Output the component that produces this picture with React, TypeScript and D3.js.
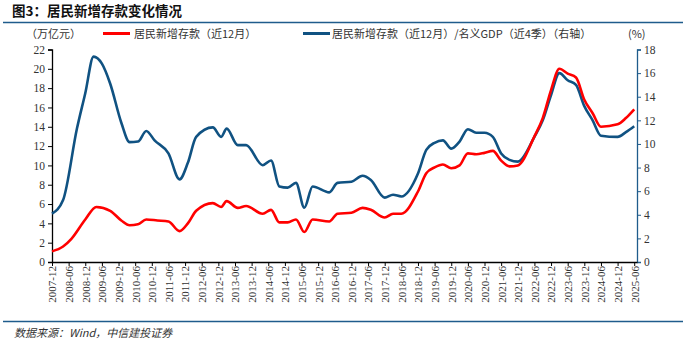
import React, { useRef, useEffect } from "react";
import * as d3 from "d3";

// 居民新增存款（近12月），万亿元
const redDates = ["2007-12", "2008-04", "2008-07", "2008-12", "2009-04", "2009-09", "2010-01", "2010-04", "2010-07", "2010-10", "2011-02", "2011-06", "2011-10", "2012-01", "2012-04", "2012-10", "2013-01", "2013-03", "2013-07", "2013-10", "2014-04", "2014-07", "2014-10", "2015-01", "2015-04", "2015-07", "2015-10", "2016-04", "2016-07", "2016-12", "2017-04", "2017-07", "2017-12", "2018-03", "2018-06", "2018-12", "2019-03", "2019-06", "2019-09", "2019-12", "2020-03", "2020-06", "2020-09", "2020-12", "2021-03", "2021-06", "2021-09", "2021-12", "2022-06", "2022-09", "2022-12", "2023-03", "2023-06", "2023-09", "2023-12", "2024-03", "2024-06", "2024-12", "2025-03", "2025-06"];
const redValues = [1.1, 1.6, 2.4, 4.4, 5.7, 5.3, 4.3, 3.8, 3.9, 4.4, 4.3, 4.2, 3.2, 4.0, 5.3, 6.1, 5.7, 6.3, 5.6, 5.8, 5.0, 5.4, 4.1, 4.1, 4.4, 3.1, 4.4, 4.2, 5.0, 5.1, 5.6, 5.4, 4.6, 5.0, 5.0, 7.3, 9.2, 9.8, 10.1, 9.7, 10.0, 11.25, 11.15, 11.3, 11.5, 10.5, 9.9, 10.0, 13.0, 14.9, 17.8, 20.0, 19.5, 19.1, 16.8, 15.4, 14.0, 14.25, 14.9, 15.8];

// 居民新增存款（近12月）/名义GDP（近4季），%（右轴）
const blueDates = ["2007-12", "2008-04", "2008-09", "2008-12", "2009-03", "2009-06", "2009-09", "2010-01", "2010-04", "2010-07", "2010-10", "2011-01", "2011-06", "2011-10", "2012-01", "2012-04", "2012-10", "2013-01", "2013-03", "2013-07", "2013-10", "2014-04", "2014-07", "2014-10", "2015-01", "2015-04", "2015-07", "2015-10", "2016-04", "2016-07", "2016-12", "2017-04", "2017-07", "2017-12", "2018-03", "2018-06", "2018-12", "2019-03", "2019-06", "2019-09", "2019-12", "2020-03", "2020-06", "2020-09", "2020-12", "2021-03", "2021-06", "2021-09", "2021-12", "2022-06", "2022-09", "2022-12", "2023-03", "2023-06", "2023-09", "2023-12", "2024-03", "2024-06", "2024-12", "2025-03", "2025-06"];
const blueValues = [4.1, 5.25, 11.3, 14.3, 17.4, 16.8, 15.1, 11.8, 10.15, 10.2, 11.1, 10.3, 9.2, 7.0, 8.4, 10.6, 11.4, 10.6, 11.3, 9.9, 9.9, 8.2, 8.6, 6.4, 6.3, 6.7, 4.6, 6.4, 5.9, 6.7, 6.8, 7.3, 6.95, 5.45, 5.7, 5.55, 7.5, 9.5, 10.1, 10.3, 9.6, 10.2, 11.25, 10.95, 10.95, 10.6, 9.2, 8.65, 8.5, 10.6, 12.0, 14.15, 16.0, 15.4, 15.0, 13.2, 12.0, 10.7, 10.6, 11.0, 11.5];

const xTickLabels = ["2007-12", "2008-06", "2008-12", "2009-06", "2009-12", "2010-06", "2010-12", "2011-06", "2011-12", "2012-06", "2012-12", "2013-06", "2013-12", "2014-06", "2014-12", "2015-06", "2015-12", "2016-06", "2016-12", "2017-06", "2017-12", "2018-06", "2018-12", "2019-06", "2019-12", "2020-06", "2020-12", "2021-06", "2021-12", "2022-06", "2022-12", "2023-06", "2023-12", "2024-06", "2024-12", "2025-06"];
const leftTicks = [0, 2, 4, 6, 8, 10, 12, 14, 16, 18, 20, 22];
const rightTicks = [0, 2, 4, 6, 8, 10, 12, 14, 16, 18];

const RED = "#ff0000";
const BLUE = "#105282";
const NAVY = "#1f5c8c";

// month string -> index of months since 2007-12
const monthIdx = (s: string) => {
    const [y, m] = s.split("-").map(Number);
    return (y - 2007) * 12 + (m - 12);
};

const App = () => {
    const svgRef = useRef<SVGSVGElement>(null);
    const width = 683;
    const height = 351;

    useEffect(() => {
        const svg = d3.select(svgRef.current);
        svg.selectAll("*").remove();

        const x = d3.scaleLinear().domain([0, 211]).range([52, 637]);
        const yL = d3.scaleLinear().domain([0, 22]).range([262, 49.5]);
        const yR = d3.scaleLinear().domain([0, 18]).range([262, 49.5]);

        // title
        svg.append("text")
            .attr("x", 12).attr("y", 16)
            .attr("font-family", "'Noto Sans CJK SC', sans-serif")
            .attr("font-weight", "bold")
            .attr("font-size", 13.5)
            .attr("fill", "#111")
            .text("图3：居民新增存款变化情况");

        svg.append("line")
            .attr("x1", 3).attr("x2", 683).attr("y1", 22.5).attr("y2", 22.5)
            .attr("stroke", NAVY).attr("stroke-width", 1.5);
        svg.append("line")
            .attr("x1", 3).attr("x2", 683).attr("y1", 321.5).attr("y2", 321.5)
            .attr("stroke", NAVY).attr("stroke-width", 1.5);

        // legend + unit labels
        const cjk = "'Noto Sans CJK SC', sans-serif";
        svg.append("text").attr("x", 26).attr("y", 38).attr("font-family", cjk)
            .attr("font-size", 11).attr("fill", "#333").text("（万亿元）");
        svg.append("text").attr("x", 628).attr("y", 38).attr("font-family", cjk)
            .attr("font-size", 11).attr("fill", "#333").text("(%)");
        svg.append("line").attr("x1", 103).attr("x2", 130).attr("y1", 33.5).attr("y2", 33.5)
            .attr("stroke", RED).attr("stroke-width", 3);
        svg.append("text").attr("x", 134).attr("y", 38).attr("font-family", cjk)
            .attr("font-size", 11).attr("fill", "#333").text("居民新增存款（近12月）");
        svg.append("line").attr("x1", 303).attr("x2", 330).attr("y1", 33.5).attr("y2", 33.5)
            .attr("stroke", BLUE).attr("stroke-width", 3);
        svg.append("text").attr("x", 332).attr("y", 38).attr("font-family", cjk)
            .attr("font-size", 11).attr("fill", "#333").text("居民新增存款（近12月）/名义GDP（近4季）（右轴）");

        const tickFont = "'Liberation Serif', serif";

        // left axis
        const gL = svg.append("g").attr("transform", "translate(52,0)")
            .call(d3.axisLeft(yL).tickValues(leftTicks).tickSize(4).tickPadding(3));
        gL.select(".domain").attr("stroke", "#000").attr("stroke-width", 1.3);
        gL.selectAll("line").attr("stroke", "#000");
        gL.selectAll("text").attr("font-family", tickFont).attr("font-size", 11.5).attr("fill", "#333");

        // right axis
        const gR = svg.append("g").attr("transform", "translate(637,0)")
            .call(d3.axisRight(yR).tickValues(rightTicks).tickSize(4).tickPadding(3));
        gR.select(".domain").attr("stroke", NAVY).attr("stroke-width", 1.3);
        gR.selectAll("line").attr("stroke", NAVY);
        gR.selectAll("text").attr("font-family", tickFont).attr("font-size", 11.5).attr("fill", "#333");

        // bottom axis
        const gX = svg.append("g").attr("transform", "translate(0,262)")
            .call(d3.axisBottom(x)
                .tickValues(xTickLabels.map(monthIdx))
                .tickFormat((d, i) => xTickLabels[i])
                .tickSize(4)
                .tickSizeOuter(0));
        gX.select(".domain").attr("stroke", "#000").attr("stroke-width", 1.3);
        gX.selectAll("line").attr("stroke", "#000");
        gX.selectAll("text")
            .attr("font-family", tickFont).attr("font-size", 11).attr("fill", "#333")
            .attr("transform", "rotate(-90)")
            .attr("text-anchor", "end")
            .attr("dx", "-4").attr("dy", "0.35em")
            .attr("x", 0).attr("y", 0);

        // lines
        const redData = redDates.map((d, i) => ({ x: monthIdx(d), y: redValues[i] }));
        const blueData = blueDates.map((d, i) => ({ x: monthIdx(d), y: blueValues[i] }));

        const redLine = d3.line<{ x: number; y: number }>()
            .x(d => x(d.x)).y(d => yL(d.y)).curve(d3.curveMonotoneX);
        const blueLine = d3.line<{ x: number; y: number }>()
            .x(d => x(d.x)).y(d => yR(d.y)).curve(d3.curveMonotoneX);

        svg.append("path").datum(blueData).attr("d", blueLine)
            .attr("fill", "none").attr("stroke", BLUE).attr("stroke-width", 2.6)
            .attr("stroke-linejoin", "round");
        svg.append("path").datum(redData).attr("d", redLine)
            .attr("fill", "none").attr("stroke", RED).attr("stroke-width", 2.6)
            .attr("stroke-linejoin", "round");

        // source
        svg.append("text").attr("x", 14).attr("y", 337).attr("font-family", "'Noto Sans CJK SC', sans-serif")
            .attr("font-size", 11).attr("font-style", "italic").attr("fill", "#333")
            .text("数据来源：Wind，中信建投证券");
    }, []);

    return (
        <div>
            <svg ref={svgRef} width={width} height={height}
                style={{ position: "absolute", left: 0, top: 0, background: "#fff" }}>
            </svg>
        </div>
    );
};

export default App;
